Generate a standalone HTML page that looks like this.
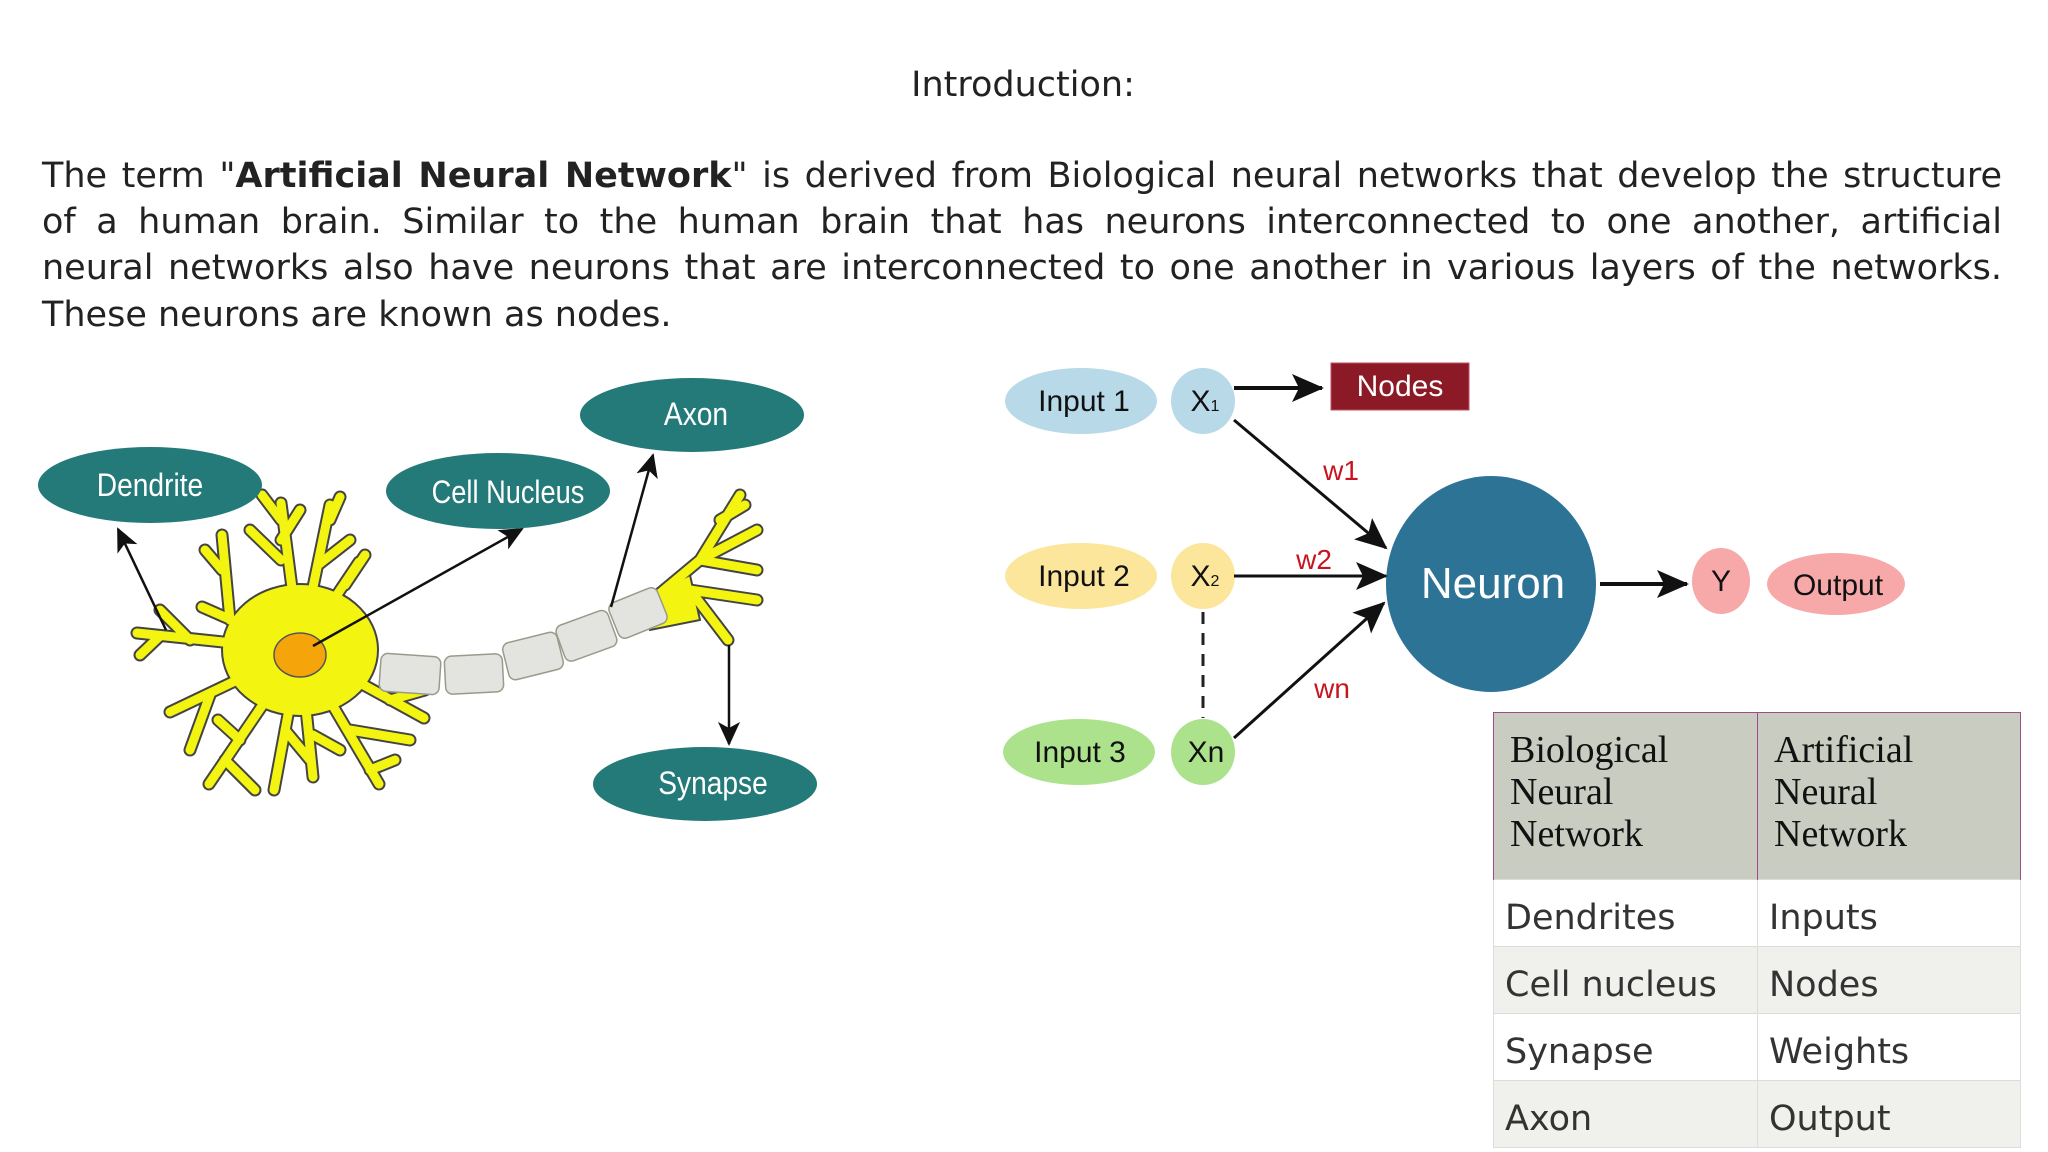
<!DOCTYPE html>
<html><head><meta charset="utf-8"><style>
html,body{margin:0;padding:0;background:#fff;}
body{width:2048px;height:1152px;position:relative;overflow:hidden;font-family:"DejaVu Sans","Liberation Sans",sans-serif;color:#222;}
.t{position:absolute;white-space:nowrap;}
.p{position:absolute;left:42px;width:1960px;font-size:35px;line-height:46px;text-align:justify;text-align-last:justify;white-space:nowrap;color:#222;}
table{position:absolute;left:1493px;top:712px;width:527px;border-collapse:collapse;table-layout:fixed;}
td{padding:0 0 0 11px;vertical-align:middle;box-sizing:border-box;}
.h td{background:#c9ccc0;font-family:"Liberation Serif",serif;font-size:38px;line-height:42px;color:#111;height:167px;border-left:1.5px solid #a04a8e;border-right:1.5px solid #a04a8e;border-top:1.5px solid #a04a8e;vertical-align:top;padding-top:16px;padding-left:16px;}
.r td{font-size:35px;color:#333;height:67px;border:1.5px solid #dcdcdc;padding-top:10px;}
.r2 td{background:#f0f0ec;}
</style></head><body>
<div class="t" style="left:0;width:2046px;text-align:center;top:65px;font-size:35px;">Introduction:</div>
<div class="p" style="top:153px;">The term "<b>Artificial Neural Network</b>" is derived from Biological neural networks that develop the structure</div>
<div class="p" style="top:199px;">of a human brain. Similar to the human brain that has neurons interconnected to one another, artificial</div>
<div class="p" style="top:245px;">neural networks also have neurons that are interconnected to one another in various layers of the networks.</div>
<div class="p" style="top:292px;text-align-last:left;">These neurons are known as nodes.</div>

<svg style="position:absolute;left:0;top:0" width="2048" height="1152" viewBox="0 0 2048 1152">
<defs>
<marker id="ah" markerWidth="26" markerHeight="26" refX="22" refY="13" orient="auto" markerUnits="userSpaceOnUse"><path d="M0,2 L24,13 L0,24 L6,13 z" fill="#111"/></marker>
<marker id="ab" markerWidth="36" markerHeight="36" refX="30" refY="18" orient="auto" markerUnits="userSpaceOnUse"><path d="M0,4 L32,18 L0,32 L7,18 z" fill="#111"/></marker>
<g id="br">
<path d="M300,650 L281,503 M281,560 L250,530 M281,540 L300,510 M281,520 L262,495"/>
<path d="M300,650 L330,505 M318,565 L350,540 M330,520 L340,497"/>
<path d="M300,650 L137,633 M190,640 L160,610 M160,636 L140,655"/>
<path d="M300,650 L202,607 M230,620 L222,535 M222,570 L205,550"/>
<path d="M300,650 L170,712 M210,695 L190,750"/>
<path d="M300,650 L209,784 M240,740 L218,720 M225,760 L255,790"/>
<path d="M300,650 L274,790 M285,730 L310,760"/>
<path d="M300,650 L313,777 M313,735 L340,750"/>
<path d="M300,650 L379,784 M350,730 L410,740 M370,770 L395,760"/>
<path d="M300,650 L424,718 M390,700 L425,690"/>
<path d="M300,650 L359,562 M345,585 L365,555"/>
<path d="M640,610 L700,560 L740,495 M700,560 L757,530 M700,560 L757,570 M690,590 L757,600 M690,590 L728,640 M720,520 L745,505"/>
</g>
</defs>
<g fill="none" stroke-linecap="round" stroke-linejoin="round">
<use href="#br" stroke="#444" stroke-width="13"/>
</g>
<ellipse cx="300" cy="650" rx="78" ry="66" fill="#f4f411" stroke="#444" stroke-width="2"/>
<path d="M640,600 L690,575 L700,620 L650,630 z" fill="#f4f411" stroke="#444" stroke-width="2"/>
<g fill="none" stroke-linecap="round" stroke-linejoin="round">
<use href="#br" stroke="#f4f411" stroke-width="9"/>
</g>
<ellipse cx="300" cy="650" rx="75" ry="63" fill="#f4f411"/>
<ellipse cx="300" cy="655" rx="26" ry="22" fill="#f5a50a" stroke="#555" stroke-width="1.5"/>
<g fill="#e3e3e0" stroke="#9a9a8a" stroke-width="1.5">
<rect x="380" y="655" width="60" height="38" rx="7" transform="rotate(4 410 674)"/>
<rect x="445" y="655" width="58" height="38" rx="7" transform="rotate(-3 474 674)"/>
<rect x="505" y="637" width="56" height="38" rx="7" transform="rotate(-14 533 656)"/>
<rect x="559" y="617" width="55" height="38" rx="7" transform="rotate(-20 586 636)"/>
<rect x="612" y="594" width="52" height="38" rx="7" transform="rotate(-22 638 613)"/>
</g>
<g stroke="#111" stroke-width="2.5" fill="none">
<line x1="166" y1="630" x2="118" y2="529" marker-end="url(#ah)"/>
<line x1="313" y1="646" x2="522" y2="529" marker-end="url(#ah)"/>
<line x1="611" y1="607" x2="653" y2="455" marker-end="url(#ah)"/>
<line x1="729" y1="645" x2="729" y2="744" marker-end="url(#ah)"/>
</g>
<g fill="#247a79">
<ellipse cx="150" cy="485" rx="112" ry="38"/>
<ellipse cx="498" cy="491" rx="112" ry="38"/>
<ellipse cx="692" cy="415" rx="112" ry="37"/>
<ellipse cx="705" cy="784" rx="112" ry="37"/>
</g>
<g fill="#fff" font-family="Liberation Sans, sans-serif" font-size="32" text-anchor="middle">
<text x="150" y="496" transform="translate(150 0) scale(0.88 1) translate(-150 0)">Dendrite</text>
<text x="508" y="503" transform="translate(508 0) scale(0.85 1) translate(-508 0)">Cell Nucleus</text>
<text x="696" y="425" transform="translate(696 0) scale(0.88 1) translate(-696 0)">Axon</text>
<text x="713" y="794" transform="translate(713 0) scale(0.88 1) translate(-713 0)">Synapse</text>
</g>

<ellipse cx="1081" cy="401" rx="76" ry="33" fill="#b8d9e7"/>
<ellipse cx="1203" cy="401" rx="32" ry="33" fill="#b8d9e7"/>
<ellipse cx="1081" cy="576" rx="76" ry="33" fill="#fbe69c"/>
<ellipse cx="1203" cy="576" rx="32" ry="33" fill="#fbe69c"/>
<ellipse cx="1079" cy="752" rx="76" ry="33" fill="#ade28c"/>
<ellipse cx="1203" cy="752" rx="32" ry="33" fill="#ade28c"/>
<rect x="1331" y="363" width="138" height="47" fill="#8c1a26" stroke="#c05060" stroke-width="1"/>
<ellipse cx="1491" cy="584" rx="105" ry="108" fill="#2d7396"/>
<ellipse cx="1721" cy="581" rx="29" ry="33" fill="#f7a8a8"/>
<ellipse cx="1836" cy="584" rx="69" ry="31" fill="#f7a8a8"/>
<line x1="1203" y1="612" x2="1203" y2="718" stroke="#222" stroke-width="3" stroke-dasharray="12,9"/>
<g stroke="#111" stroke-width="3" fill="none">
<line x1="1234" y1="388" x2="1322" y2="388" stroke-width="4" marker-end="url(#ab)"/>
<line x1="1234" y1="420" x2="1386" y2="548" marker-end="url(#ab)"/>
<line x1="1234" y1="576" x2="1386" y2="576" marker-end="url(#ab)"/>
<line x1="1234" y1="738" x2="1384" y2="603" marker-end="url(#ab)"/>
<line x1="1600" y1="584" x2="1687" y2="584" stroke-width="4" marker-end="url(#ab)"/>
</g>
<g font-family="Liberation Sans, sans-serif" font-size="30" text-anchor="middle" fill="#111">
<text x="1084" y="411">Input 1</text>
<text x="1084" y="586">Input 2</text>
<text x="1080" y="762">Input 3</text>
<text x="1205" y="411">X<tspan font-size="16">1</tspan></text>
<text x="1205" y="586">X<tspan font-size="16">2</tspan></text>
<text x="1206" y="762">Xn</text>
<text x="1721" y="591">Y</text>
<text x="1838" y="595">Output</text>
<text x="1400" y="396" fill="#fff">Nodes</text>
<text x="1493" y="598" fill="#fff" font-size="44">Neuron</text>
</g>
<g font-family="Liberation Sans, sans-serif" font-size="28" fill="#c8141e" text-anchor="middle">
<text x="1341" y="480">w1</text>
<text x="1314" y="569">w2</text>
<text x="1332" y="698">wn</text>
</g>
</svg>

<table>
<colgroup><col style="width:264px"><col style="width:263px"></colgroup>
<tr class="h"><td>Biological<br>Neural<br>Network</td><td>Artificial<br>Neural<br>Network</td></tr>
<tr class="r"><td>Dendrites</td><td>Inputs</td></tr>
<tr class="r r2"><td>Cell nucleus</td><td>Nodes</td></tr>
<tr class="r"><td>Synapse</td><td>Weights</td></tr>
<tr class="r r2"><td>Axon</td><td>Output</td></tr>
</table>
</body></html>
